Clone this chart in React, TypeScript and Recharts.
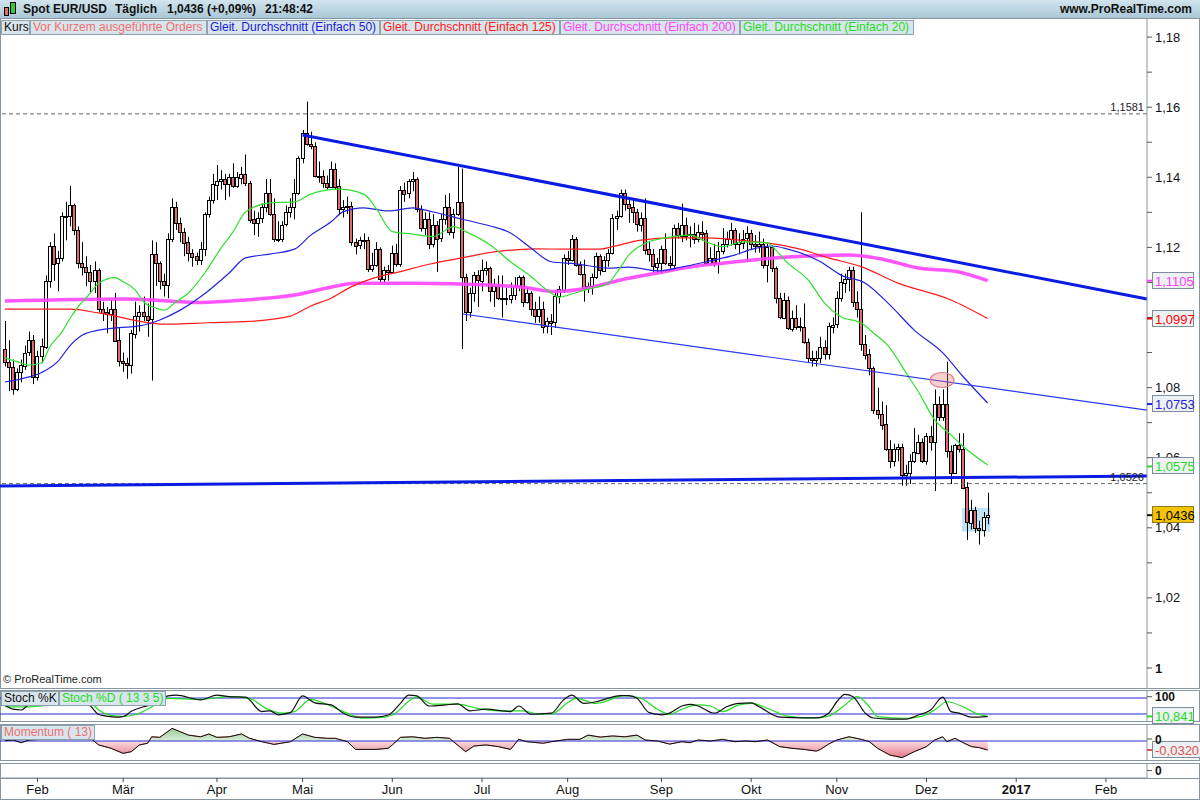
import React from "react";
import {
  ComposedChart,
  Bar,
  Line,
  Area,
  XAxis,
  YAxis,
  ReferenceLine,
  ReferenceDot,
  ReferenceArea,
} from "recharts";

const FONT = '"Liberation Sans", Arial, Helvetica, sans-serif';
const FRAME = "#8796a2";
// one slot per weekday, slot 0 = 20.01.2016
const X_DOMAIN: [number, number] = [-1.2, 280.07];
const PRICE_DOMAIN: [number, number] = [0.994294, 1.185164];

const monthTickIdx = [8, 29, 52, 73, 95, 117, 138, 161, 183, 204, 226, 248, 270];
const monthLabels = ["Feb", "Mär", "Apr", "Mai", "Jun", "Jul", "Aug", "Sep", "Okt", "Nov", "Dez", "2017", "Feb"];

const priceTicks = [1, 1.01, 1.02, 1.03, 1.04, 1.05, 1.06, 1.07, 1.08, 1.09, 1.1, 1.11, 1.12, 1.13, 1.14, 1.15, 1.16, 1.17, 1.18];

const opens = [
  1.0910, 1.0873, 1.0860, 1.0796, 1.0845, 1.0862, 1.0900, 1.0935, 1.0830, 1.0890,
  1.0918, 1.1105, 1.1205, 1.1155, 1.1170, 1.1290, 1.1290, 1.1320, 1.1250, 1.1155,
  1.1145, 1.1130, 1.1105, 1.1135, 1.1025, 1.1015, 1.1010, 1.1025, 1.0935, 1.0875,
  1.0870, 1.0865, 1.0955, 1.1005, 1.1015, 1.1005, 1.0995, 1.1180, 1.1155, 1.1105,
  1.1095, 1.1225, 1.1315, 1.1270, 1.1245, 1.1215, 1.1185, 1.1175, 1.1165, 1.1195,
  1.1295, 1.1335, 1.1380, 1.1390, 1.1395, 1.1380, 1.1400, 1.1375, 1.1400, 1.1410,
  1.1385, 1.1280, 1.1270, 1.1285, 1.1315, 1.1355, 1.1295, 1.1225, 1.1225, 1.1265,
  1.1300, 1.1315, 1.1355, 1.1455, 1.1525, 1.1495, 1.1490, 1.1405, 1.1405, 1.1385,
  1.1375, 1.1425, 1.1375, 1.1310, 1.1315, 1.1318, 1.1215, 1.1205, 1.1220, 1.1222,
  1.1140, 1.1150, 1.1195, 1.1110, 1.1135, 1.1130, 1.1185, 1.1155, 1.1365, 1.1355,
  1.1390, 1.1395, 1.1310, 1.1255, 1.1280, 1.1210, 1.1265, 1.1225, 1.1280, 1.1315,
  1.1245, 1.1295, 1.1330, 1.1115, 1.1015, 1.1070, 1.1120, 1.1105, 1.1135, 1.1140,
  1.1075, 1.1090, 1.1055, 1.1055, 1.1055, 1.1065, 1.1090, 1.1115, 1.1045, 1.1070,
  1.1025, 1.1005, 1.1025, 1.0975, 1.0990, 1.0985, 1.1060, 1.1080, 1.1170, 1.1165,
  1.1225, 1.1150, 1.1125, 1.1085, 1.1090, 1.1115, 1.1175, 1.1135, 1.1165, 1.1185,
  1.1285, 1.1290, 1.1355, 1.1325, 1.1315, 1.1300, 1.1265, 1.1285, 1.1195, 1.1180,
  1.1145, 1.1155, 1.1195, 1.1155, 1.1150, 1.1255, 1.1235, 1.1265, 1.1235, 1.1238,
  1.1225, 1.1245, 1.1240, 1.1155, 1.1170, 1.1155, 1.1190, 1.1210, 1.1225, 1.1250,
  1.1210, 1.1215, 1.1225, 1.1240, 1.1210, 1.1205, 1.1210, 1.1150, 1.1200, 1.1140,
  1.1055, 1.1000, 1.1050, 1.0970, 1.1000, 1.0975, 1.0972, 1.0930, 1.0885, 1.0880,
  1.0885, 1.0915, 1.0895, 1.0975, 1.0980, 1.1055, 1.1100, 1.1110, 1.1135, 1.1045,
  1.1025, 1.0925, 1.0895, 1.0855, 1.0735, 1.0725, 1.0695, 1.0625, 1.0590, 1.0625,
  1.0630, 1.0550, 1.0555, 1.0590, 1.0615, 1.0645, 1.0590, 1.0662, 1.0645, 1.0753,
  1.0716, 1.0753, 1.0619, 1.0556, 1.0635, 1.0625, 1.0515, 1.0414, 1.0450, 1.0400,
  1.0395, 1.0431,
];

const highs = [
  1.0990, 1.0935, 1.0880, 1.0855, 1.0880, 1.0920, 1.0960, 1.0950, 1.0905, 1.0940,
  1.1120, 1.1215, 1.1240, 1.1190, 1.1300, 1.1330, 1.1375, 1.1325, 1.1260, 1.1215,
  1.1175, 1.1150, 1.1160, 1.1140, 1.1045, 1.1030, 1.1050, 1.1070, 1.0970, 1.0900,
  1.0885, 1.0965, 1.1045, 1.1035, 1.1060, 1.1040, 1.1220, 1.1215, 1.1160, 1.1125,
  1.1240, 1.1340, 1.1330, 1.1285, 1.1255, 1.1230, 1.1195, 1.1185, 1.1215, 1.1300,
  1.1345, 1.1410, 1.1435, 1.1420, 1.1410, 1.1410, 1.1440, 1.1415, 1.1430, 1.1465,
  1.1390, 1.1305, 1.1300, 1.1325, 1.1395, 1.1395, 1.1340, 1.1275, 1.1275, 1.1320,
  1.1340, 1.1395, 1.1460, 1.1535, 1.1616, 1.1530, 1.1500, 1.1445, 1.1420, 1.1405,
  1.1445, 1.1440, 1.1395, 1.1335, 1.1345, 1.1330, 1.1225, 1.1230, 1.1240, 1.1230,
  1.1185, 1.1215, 1.1200, 1.1145, 1.1150, 1.1205, 1.1210, 1.1375, 1.1385, 1.1395,
  1.1415, 1.1400, 1.1320, 1.1300, 1.1300, 1.1295, 1.1275, 1.1295, 1.1350, 1.1355,
  1.1310, 1.1430, 1.1425, 1.1125, 1.1085, 1.1130, 1.1135, 1.1165, 1.1160, 1.1145,
  1.1110, 1.1120, 1.1120, 1.1085, 1.1100, 1.1115, 1.1120, 1.1120, 1.1085, 1.1075,
  1.1045, 1.1060, 1.1045, 1.1000, 1.1010, 1.1070, 1.1090, 1.1180, 1.1190, 1.1235,
  1.1230, 1.1160, 1.1165, 1.1100, 1.1125, 1.1185, 1.1180, 1.1175, 1.1195, 1.1295,
  1.1305, 1.1365, 1.1365, 1.1340, 1.1335, 1.1310, 1.1300, 1.1340, 1.1215, 1.1195,
  1.1170, 1.1205, 1.1240, 1.1175, 1.1265, 1.1270, 1.1325, 1.1285, 1.1260, 1.1270,
  1.1265, 1.1275, 1.1250, 1.1200, 1.1210, 1.1215, 1.1255, 1.1245, 1.1270, 1.1255,
  1.1240, 1.1250, 1.1260, 1.1250, 1.1235, 1.1245, 1.1225, 1.1210, 1.1205, 1.1145,
  1.1070, 1.1070, 1.1060, 1.1020, 1.1035, 1.1000, 1.1040, 1.0940, 1.0905, 1.0905,
  1.0945, 1.0935, 1.0985, 1.1000, 1.1075, 1.1125, 1.1125, 1.1145, 1.1145, 1.1075,
  1.1300, 1.0950, 1.0910, 1.0860, 1.0800, 1.0760, 1.0750, 1.0650, 1.0640, 1.0640,
  1.0640, 1.0580, 1.0610, 1.0685, 1.0665, 1.0655, 1.0670, 1.0690, 1.0795, 1.0775,
  1.0795, 1.0874, 1.0635, 1.0640, 1.0670, 1.0670, 1.0530, 1.0480, 1.0460, 1.0420,
  1.0445, 1.0500,
];

const lows = [
  1.0860, 1.0790, 1.0780, 1.0790, 1.0815, 1.0850, 1.0890, 1.0810, 1.0820, 1.0870,
  1.0910, 1.1085, 1.1105, 1.1075, 1.1160, 1.1220, 1.1260, 1.1235, 1.1140, 1.1120,
  1.1090, 1.1070, 1.1070, 1.1015, 1.0990, 1.0955, 1.0990, 1.0930, 1.0860, 1.0845,
  1.0825, 1.0840, 1.0940, 1.0960, 1.0990, 1.0945, 1.0820, 1.1090, 1.1080, 1.1060,
  1.1055, 1.1215, 1.1250, 1.1215, 1.1175, 1.1160, 1.1145, 1.1150, 1.1150, 1.1175,
  1.1285, 1.1325, 1.1335, 1.1365, 1.1335, 1.1345, 1.1370, 1.1370, 1.1380, 1.1375,
  1.1270, 1.1235, 1.1230, 1.1270, 1.1300, 1.1290, 1.1215, 1.1215, 1.1215, 1.1260,
  1.1285, 1.1280, 1.1350, 1.1440, 1.1490, 1.1480, 1.1400, 1.1385, 1.1370, 1.1365,
  1.1370, 1.1365, 1.1295, 1.1285, 1.1295, 1.1205, 1.1180, 1.1195, 1.1195, 1.1130,
  1.1130, 1.1145, 1.1100, 1.1100, 1.1105, 1.1125, 1.1145, 1.1145, 1.1330, 1.1340,
  1.1360, 1.1300, 1.1245, 1.1235, 1.1195, 1.1200, 1.1130, 1.1215, 1.1265, 1.1235,
  1.1225, 1.1290, 1.0910, 1.0990, 1.1000, 1.1045, 1.1030, 1.1075, 1.1120, 1.1045,
  1.1030, 1.1050, 1.1000, 1.1035, 1.1040, 1.1050, 1.1075, 1.1030, 1.1040, 1.1005,
  1.0985, 1.0985, 1.0955, 1.0955, 1.0950, 1.0970, 1.1040, 1.1070, 1.1150, 1.1160,
  1.1145, 1.1120, 1.1045, 1.1070, 1.1065, 1.1110, 1.1120, 1.1130, 1.1145, 1.1180,
  1.1250, 1.1285, 1.1305, 1.1270, 1.1270, 1.1245, 1.1245, 1.1180, 1.1160, 1.1130,
  1.1125, 1.1125, 1.1150, 1.1140, 1.1140, 1.1225, 1.1215, 1.1220, 1.1200, 1.1210,
  1.1215, 1.1220, 1.1150, 1.1150, 1.1145, 1.1125, 1.1180, 1.1200, 1.1205, 1.1195,
  1.1180, 1.1195, 1.1160, 1.1195, 1.1185, 1.1185, 1.1140, 1.1100, 1.1130, 1.1040,
  1.0995, 1.0995, 1.0965, 1.0960, 1.0965, 1.0960, 1.0925, 1.0870, 1.0860, 1.0860,
  1.0870, 1.0880, 1.0880, 1.0955, 1.0970, 1.1045, 1.1070, 1.1075, 1.1030, 1.1000,
  1.0905, 1.0880, 1.0835, 1.0725, 1.0710, 1.0680, 1.0620, 1.0570, 1.0575, 1.0590,
  1.0520, 1.0520, 1.0525, 1.0585, 1.0610, 1.0585, 1.0580, 1.0620, 1.0505, 1.0705,
  1.0705, 1.0600, 1.0525, 1.0555, 1.0615, 1.0510, 1.0365, 1.0395, 1.0385, 1.0352,
  1.0375, 1.0410,
];

const closes = [
  1.0873, 1.0860, 1.0796, 1.0845, 1.0865, 1.0900, 1.0935, 1.0830, 1.0890, 1.0918,
  1.1105, 1.1205, 1.1155, 1.1170, 1.1290, 1.1290, 1.1320, 1.1250, 1.1155, 1.1145,
  1.1130, 1.1105, 1.1135, 1.1025, 1.1015, 1.1010, 1.1025, 1.0935, 1.0875, 1.0870,
  1.0865, 1.0955, 1.1005, 1.1015, 1.1005, 1.0995, 1.1180, 1.1155, 1.1105, 1.1095,
  1.1225, 1.1315, 1.1270, 1.1245, 1.1215, 1.1185, 1.1175, 1.1165, 1.1195, 1.1295,
  1.1335, 1.1380, 1.1390, 1.1395, 1.1380, 1.1400, 1.1375, 1.1400, 1.1410, 1.1385,
  1.1280, 1.1270, 1.1285, 1.1315, 1.1355, 1.1295, 1.1225, 1.1225, 1.1265, 1.1300,
  1.1315, 1.1355, 1.1455, 1.1525, 1.1495, 1.1490, 1.1405, 1.1405, 1.1385, 1.1375,
  1.1425, 1.1375, 1.1310, 1.1315, 1.1318, 1.1215, 1.1205, 1.1220, 1.1222, 1.1140,
  1.1150, 1.1195, 1.1110, 1.1135, 1.1130, 1.1185, 1.1155, 1.1365, 1.1355, 1.1390,
  1.1395, 1.1310, 1.1255, 1.1280, 1.1210, 1.1265, 1.1225, 1.1280, 1.1315, 1.1245,
  1.1295, 1.1330, 1.1115, 1.1015, 1.1070, 1.1120, 1.1105, 1.1135, 1.1140, 1.1075,
  1.1090, 1.1055, 1.1055, 1.1055, 1.1065, 1.1090, 1.1115, 1.1045, 1.1070, 1.1025,
  1.1005, 1.1025, 1.0975, 1.0990, 1.0985, 1.1060, 1.1080, 1.1170, 1.1165, 1.1225,
  1.1150, 1.1125, 1.1085, 1.1090, 1.1115, 1.1175, 1.1135, 1.1165, 1.1185, 1.1285,
  1.1290, 1.1355, 1.1325, 1.1315, 1.1300, 1.1265, 1.1285, 1.1195, 1.1180, 1.1145,
  1.1155, 1.1195, 1.1155, 1.1150, 1.1255, 1.1235, 1.1265, 1.1235, 1.1238, 1.1225,
  1.1245, 1.1240, 1.1155, 1.1170, 1.1155, 1.1190, 1.1210, 1.1225, 1.1250, 1.1210,
  1.1215, 1.1225, 1.1240, 1.1210, 1.1205, 1.1210, 1.1150, 1.1200, 1.1140, 1.1055,
  1.1000, 1.1050, 1.0970, 1.1000, 1.0975, 1.0972, 1.0930, 1.0885, 1.0880, 1.0885,
  1.0915, 1.0895, 1.0975, 1.0980, 1.1055, 1.1100, 1.1110, 1.1135, 1.1045, 1.1025,
  1.0925, 1.0895, 1.0855, 1.0735, 1.0725, 1.0695, 1.0625, 1.0590, 1.0625, 1.0630,
  1.0550, 1.0555, 1.0590, 1.0615, 1.0645, 1.0590, 1.0662, 1.0645, 1.0753, 1.0716,
  1.0753, 1.0619, 1.0556, 1.0635, 1.0625, 1.0515, 1.0415, 1.0450, 1.0400, 1.0395,
  1.0431, 1.0436,
];

// moving averages: [slot, value]
const ma20: [number, number][] = [
  [0, 1.0885], [3, 1.0874], [6, 1.0864], [9, 1.0871], [11, 1.0916], [14, 1.0959], [16, 1.0998], [18, 1.1031],
  [21, 1.107], [23, 1.1098], [27, 1.1114], [29, 1.1102], [32, 1.1078], [34, 1.1045], [37, 1.1027], [39, 1.1021],
  [42, 1.1045], [45, 1.107], [49, 1.1127], [53, 1.1198], [56, 1.1245], [59, 1.1301], [65, 1.1327], [71, 1.133],
  [75, 1.1352], [82, 1.1366], [88, 1.1352], [91, 1.1312], [95, 1.1245], [100, 1.1238], [105, 1.1231], [110, 1.1259],
  [113, 1.1245], [119, 1.1207], [124, 1.1159], [129, 1.1117], [133, 1.1078], [136, 1.1058], [139, 1.1067], [143, 1.1081],
  [148, 1.1098], [150, 1.1127], [153, 1.1178], [157, 1.1212], [162, 1.1227], [168, 1.1235], [172, 1.1216], [176, 1.1202],
  [181, 1.1216], [187, 1.1213], [189, 1.1193], [192, 1.1155], [197, 1.1107], [201, 1.1041], [205, 1.1002], [210, 1.0984],
  [213, 1.0956], [217, 1.0913], [221, 1.0842], [224, 1.0788], [228, 1.0708], [232, 1.0665], [235, 1.0632], [241, 1.0579],
];
const ma50: [number, number][] = [
  [0, 1.0816], [4, 1.0825], [9, 1.0843], [13, 1.0875], [16, 1.092], [19, 1.095], [23, 1.0964], [28, 1.0971],
  [33, 1.0976], [38, 1.0993], [43, 1.1021], [48, 1.1059], [55, 1.1127], [59, 1.117], [65, 1.1181], [71, 1.1195],
  [75, 1.1235], [80, 1.1273], [83, 1.1302], [88, 1.1313], [94, 1.1304], [100, 1.1313], [105, 1.1301], [112, 1.1281],
  [119, 1.1261], [124, 1.1241], [129, 1.1198], [134, 1.1159], [140, 1.1153], [148, 1.1141], [153, 1.1144], [160, 1.1133],
  [166, 1.1144], [172, 1.1159], [178, 1.1175], [184, 1.1197], [188, 1.1204], [192, 1.1195], [200, 1.1159], [205, 1.1121],
  [211, 1.1098], [217, 1.1036], [223, 1.0964], [230, 1.0899], [235, 1.0831], [241, 1.0756],
];
const ma125: [number, number][] = [
  [0, 1.1024], [16, 1.1024], [23, 1.1013], [39, 1.0981], [50, 1.0985], [60, 1.0989], [70, 1.1004], [75, 1.1033],
  [80, 1.1055], [85, 1.1088], [90, 1.1111], [97, 1.1131], [104, 1.1152], [112, 1.117], [120, 1.1187], [130, 1.1196],
  [138, 1.1195], [146, 1.1195], [149, 1.1202], [156, 1.1221], [164, 1.1227], [172, 1.1227], [180, 1.1221], [190, 1.1207],
  [195, 1.1195], [202, 1.117], [210, 1.1145], [219, 1.1098], [232, 1.105], [241, 1.0997],
];
const ma200: [number, number][] = [
  [0, 1.1047], [30, 1.1053], [48, 1.1043], [59, 1.105], [71, 1.1064], [79, 1.1084], [86, 1.1098], [100, 1.1098],
  [119, 1.1093], [127, 1.1086], [135, 1.1074], [143, 1.1084], [151, 1.1107], [160, 1.1127], [168, 1.1144], [176, 1.1155],
  [184, 1.1165], [193, 1.1173], [207, 1.1178], [215, 1.1167], [224, 1.1141], [233, 1.1132], [241, 1.1105],
];

const stochK: [number, number][] = [
  [0, 54], [2, 38], [4, 35], [6, 54], [8, 54], [12, 85], [16, 92], [19, 75], [21, 50], [23, 18], [25, 12], [27, 8],
  [29, 10], [31, 30], [34, 47], [36, 55], [40, 88], [42, 91], [48, 73], [52, 91], [55, 85], [59, 83], [63, 29], [65, 32],
  [67, 17], [70, 25], [73, 88], [76, 62], [80, 54], [83, 23], [86, 8], [91, 8], [94, 16], [97, 60], [99, 91], [101, 88],
  [104, 50], [108, 54], [111, 58], [114, 32], [118, 38], [124, 29], [126, 50], [129, 19], [134, 23], [137, 73], [139, 91],
  [142, 60], [145, 66], [146, 70], [151, 89], [153, 89], [155, 79], [158, 25], [161, 17], [163, 23], [166, 50], [168, 56],
  [170, 50], [174, 23], [177, 47], [180, 60], [183, 62], [185, 47], [190, 8], [196, 5], [199, 5], [202, 23], [204, 66],
  [206, 94], [208, 85], [211, 23], [213, 5], [217, 1], [221, 1], [224, 16], [227, 35], [230, 83], [232, 29], [234, 23],
  [237, 8], [241, 10],
];
const stochD: [number, number][] = [
  [0, 48], [2, 47], [6, 47], [9, 50], [14, 75], [18, 85], [21, 65], [23, 35], [26, 15], [29, 11], [32, 18], [35, 38],
  [40, 79], [48, 75], [55, 85], [60, 79], [64, 41], [68, 23], [71, 29], [75, 75], [78, 62], [83, 29], [88, 4], [93, 8],
  [95, 16], [101, 83], [105, 57], [111, 57], [116, 41], [121, 32], [127, 32], [131, 19], [134, 20], [138, 62], [140, 79],
  [145, 60], [146, 62], [152, 89], [156, 79], [160, 38], [163, 19], [166, 38], [170, 54], [173, 50], [176, 29], [180, 54],
  [183, 60], [188, 35], [192, 12], [198, 5], [202, 12], [206, 54], [209, 85], [212, 47], [214, 10], [221, 4], [225, 12],
  [228, 35], [231, 66], [235, 47], [238, 23], [241, 11],
];
const momentum: [number, number][] = [
  [0, 0.001], [2, 0.0036], [4, -0.006], [6, 0.0036], [9, 0.006], [12, 0.025], [15, 0.04], [18, 0.03], [21, 0.01],
  [23, -0.014], [26, -0.026], [29, -0.044], [31, -0.038], [33, -0.014], [35, -0.008], [36, 0.015], [38, 0.013],
  [41, 0.045], [45, 0.021], [48, 0.015], [50, 0.025], [52, 0.013], [55, 0.015], [58, 0.025], [60, 0.0096], [63, -0.0025],
  [66, -0.012], [70, -0.0025], [73, 0.025], [76, 0.013], [79, 0.0096], [81, 0.0096], [84, -0.0025], [86, -0.03],
  [91, -0.03], [94, -0.026], [95, -0.014], [97, 0.013], [100, 0.015], [103, 0.0096], [106, 0.013], [109, 0.0096],
  [110, -0.0025], [113, -0.038], [115, -0.018], [118, -0.014], [121, -0.02], [124, -0.03], [126, 0.006], [128, -0.0025],
  [132, -0.008], [134, -0.0025], [138, 0.006], [141, 0.006], [143, 0.021], [146, 0.014], [149, 0.018], [152, 0.015],
  [155, 0.021], [157, 0.0036], [160, 0], [163, -0.011], [166, -0.0025], [168, -0.006], [170, 0.0036], [173, 0],
  [176, 0.006], [179, -0.0025], [182, 0], [184, -0.0025], [187, 0.0036], [190, -0.02], [193, -0.026], [196, -0.03],
  [199, -0.036], [200, -0.03], [202, -0.011], [204, 0.0036], [207, 0.015], [210, 0.006], [212, -0.0025], [214, -0.026],
  [217, -0.05], [220, -0.059], [223, -0.038], [226, -0.02], [228, 0.0036], [230, 0.015], [231, -0.0025], [233, 0.0096],
  [235, -0.006], [237, -0.02], [239, -0.024], [241, -0.032],
];

// build the tables recharts wants
const priceRows: any[] = closes.map((c, i) => ({
  i,
  o: opens[i],
  h: highs[i],
  l: lows[i],
  c,
  range: [lows[i], highs[i]],
}));
const indRows: any[] = closes.map((_, i) => ({ i }));
const put = (rows: any[], key: string, pts: [number, number][]) =>
  pts.forEach(([i, v]) => {
    rows[i][key] = v;
  });
put(priceRows, "ma20", ma20);
put(priceRows, "ma50", ma50);
put(priceRows, "ma125", ma125);
put(priceRows, "ma200", ma200);
put(indRows, "k", stochK);
put(indRows, "d", stochD);
put(indRows, "m", momentum);

const fmt = (v: number) => String(Number(v.toFixed(2))).replace(".", ",");

function Candle(props: any) {
  const { x, y, width, height, payload } = props;
  if (!payload || y == null || height == null) return null;
  const { o, h, l, c } = payload;
  const cx = Math.round(x + width / 2) + 0.5;
  const k = h === l ? 0 : height / (h - l);
  const yO = y + (h - o) * k;
  const yC = y + (h - c) * k;
  const top = Math.round(Math.min(yO, yC)) + 0.5;
  const bh = Math.max(Math.round(Math.abs(yC - yO)), 1);
  return (
    <g>
      <line x1={cx} x2={cx} y1={y} y2={y + height} stroke="#000" strokeWidth={1} />
      <rect x={cx - 2} y={top} width={3} height={bh} fill={c >= o ? "#f4f4f4" : "#e06b6b"} stroke="#000" strokeWidth={1} />
    </g>
  );
}

function PriceTick(props: any) {
  const { x, y, payload } = props;
  const v = payload.value;
  const cents = Math.round(v * 100);
  // 1,10 sits under the 1,0997 tag in the original, only its mark shows
  const major = cents % 2 === 0 && cents !== 110;
  return (
    <g>
      <line x1={x} x2={x + 5} y1={y} y2={y} stroke="#555" />
      {major && (
        <text x={x + 8} y={y} dy={4.5} fontSize={13} fill="#111" fontFamily={FONT} fontWeight={v === 1 ? "bold" : "normal"}>
          {fmt(v)}
        </text>
      )}
    </g>
  );
}

function SubTick(props: any) {
  const { x, y, payload, shift = 0 } = props;
  return (
    <g>
      <line x1={x} x2={x + 5} y1={y + shift} y2={y + shift} stroke="#555" />
      <text x={x + 8} y={y + shift} dy={4.5} fontSize={12} fill="#111" fontFamily={FONT} fontWeight="bold">
        {payload.value}
      </text>
    </g>
  );
}

function MonthTick(props: any) {
  const { x, y, payload } = props;
  const label = monthLabels[monthTickIdx.indexOf(payload.value)];
  return (
    <text x={x} y={y} dy={12} textAnchor="middle" fontSize={13} fill="#111" fontFamily={FONT} fontWeight={label === "2017" ? "bold" : "normal"}>
      {label}
    </text>
  );
}

const tag = (text: string, color: string, w = 41, bg = "#eef1f3", border = "#7d8d99", textColor?: string) =>
  (props: any) => {
    const vb = props.viewBox || {};
    const x = (vb.x ?? 0) + (vb.width ?? 0) / 2;
    const y = (vb.y ?? 0) + (vb.height ?? 0) / 2;
    return (
      <g>
        <line x1={x} x2={x + 5} y1={y} y2={y} stroke={color} strokeWidth={2} />
        <rect x={x + 5.5} y={Math.round(y) - 8.5} width={w} height={16} fill={bg} stroke={border} />
        <text x={x + 8} y={y} dy={5} fontSize={13} fill={textColor || color} fontFamily={FONT}>
          {text}
        </text>
      </g>
    );
  };

const box = (left: number, width: number, top: number, color: string, text: string) => (
  <div
    key={text}
    style={{
      position: "absolute",
      left,
      top,
      width,
      height: 15,
      boxSizing: "border-box",
      background: "#d9e5ec",
      border: "1px solid #8ea2af",
      color,
      fontSize: 12,
      lineHeight: "13px",
      paddingLeft: 2,
      whiteSpace: "nowrap",
      overflow: "hidden",
    }}
  >
    {text}
  </div>
);

const frame = (top: number, height: number) => (
  <div
    style={{
      position: "absolute",
      left: 0,
      top,
      width: 1200,
      height,
      boxSizing: "border-box",
      border: `1px solid ${FRAME}`,
    }}
  />
);

const M = { top: 0, right: 0, bottom: 0, left: 0 };
const PAD = { top: 6, right: 0, bottom: 12, left: 0 };

export default function App() {
  return (
    <div style={{ position: "absolute", left: 0, top: 0, width: 1200, height: 800, background: "#fff", overflow: "hidden", fontFamily: FONT }}>
      {/* header */}
      <div style={{ position: "absolute", left: 0, top: 0, width: 1200, height: 19, boxSizing: "border-box", background: "linear-gradient(#d2e4ee, #aac7d7)", borderBottom: `1px solid ${FRAME}` }}>
        <div style={{ position: "absolute", left: 4, top: 7, width: 5, height: 9, background: "#e46a6a", border: "1px solid #000", boxSizing: "border-box" }} />
        <div style={{ position: "absolute", left: 10, top: 2, width: 6, height: 12, background: "#33cc33", border: "1px solid #000", boxSizing: "border-box" }} />
        {[
          [23, "Spot EUR/USD"],
          [115, "Täglich"],
          [167, "1,0436 (+0,09%)"],
          [265, "21:48:42"],
        ].map(([l, t]) => (
          <span key={t as string} style={{ position: "absolute", left: l as number, top: 2, fontSize: 12, fontWeight: "bold", color: "#111" }}>
            {t}
          </span>
        ))}
        <span style={{ position: "absolute", right: 8, top: 2, fontSize: 12, fontWeight: "bold", color: "#111" }}>www.ProRealTime.com</span>
      </div>

      {frame(18, 671)}
      {frame(690, 32)}
      {frame(724, 37)}
      {frame(763, 16)}
      {frame(778, 22)}

      {/* price panel */}
      <div style={{ position: "absolute", left: 0, top: 19 }}>
        <ComposedChart width={1200} height={669} data={priceRows} margin={M}>
          <XAxis hide type="number" dataKey="i" domain={X_DOMAIN} allowDataOverflow />
          <YAxis
            orientation="right"
            width={53}
            type="number"
            domain={PRICE_DOMAIN}
            allowDataOverflow
            ticks={priceTicks}
            interval={0}
            tickSize={0}
            tickMargin={0}
            tickLine={false}
            axisLine={{ stroke: FRAME }}
            tick={(p: any) => <PriceTick {...p} />}
          />
          <ReferenceArea x1={234.7} x2={241.7} y1={1.0389} y2={1.0457} fill="#bfe4f7" fillOpacity={1} stroke="none" ifOverflow="visible" />
          <ReferenceLine y={1.1581} stroke="#666" strokeDasharray="4 3" label={{ value: "1,1581", position: "insideBottomRight", offset: 3, fontSize: 11, fill: "#222" }} />
          <ReferenceLine y={1.0526} stroke="#666" strokeDasharray="4 3" label={{ value: "1,0526", position: "insideBottomRight", offset: 3, fontSize: 11, fill: "#222" }} />
          <Bar dataKey="range" barSize={4} isAnimationActive={false} shape={(p: any) => <Candle {...p} />} />
          <Line dataKey="ma200" type="monotone" connectNulls dot={false} stroke="#ff44ff" strokeWidth={3.5} strokeOpacity={0.9} isAnimationActive={false} />
          <Line dataKey="ma125" type="monotone" connectNulls dot={false} stroke="#ff1a1a" strokeWidth={1.2} isAnimationActive={false} />
          <Line dataKey="ma50" type="monotone" connectNulls dot={false} stroke="#2222dd" strokeWidth={1.2} isAnimationActive={false} />
          <Line dataKey="ma20" type="monotone" connectNulls dot={false} stroke="#2ee02e" strokeWidth={1.2} isAnimationActive={false} />
          <ReferenceLine segment={[{ x: 73, y: 1.15207 }, { x: 280.07, y: 1.10528 }]} stroke="#0b1be3" strokeWidth={3} ifOverflow="visible" />
          <ReferenceLine segment={[{ x: 112.3, y: 1.101 }, { x: 280.07, y: 1.0736 }]} stroke="#2a3aee" strokeWidth={1.2} ifOverflow="visible" />
          <ReferenceLine segment={[{ x: -1.2, y: 1.05193 }, { x: 280.07, y: 1.05478 }]} stroke="#0b1be3" strokeWidth={3} ifOverflow="visible" />
          <ReferenceDot
            x={229.8}
            y={1.08217}
            r={10}
            ifOverflow="visible"
            shape={(p: any) => <ellipse cx={p.cx} cy={p.cy} rx={12} ry={7.5} fill="rgba(232,120,120,0.35)" stroke="#e08080" strokeWidth={1.2} />}
          />
        </ComposedChart>
      </div>

      {/* value tags drawn above the price axis labels */}
      <div style={{ position: "absolute", left: 0, top: 19 }}>
        <ComposedChart width={1200} height={669} data={priceRows} margin={{ top: 0, right: 53, bottom: 0, left: 0 }}>
          <XAxis hide type="number" dataKey="i" domain={X_DOMAIN} allowDataOverflow />
          <YAxis hide type="number" domain={PRICE_DOMAIN} allowDataOverflow />
          <ReferenceDot x={280.07} y={1.1105} r={0.5} fill="none" stroke="none" ifOverflow="visible" label={tag("1,1105", "#ff3cff")} />
          <ReferenceDot x={280.07} y={1.0997} r={0.5} fill="none" stroke="none" ifOverflow="visible" label={tag("1,0997", "#ff0000")} />
          <ReferenceDot x={280.07} y={1.0753} r={0.5} fill="none" stroke="none" ifOverflow="visible" label={tag("1,0753", "#2222dd")} />
          <ReferenceDot x={280.07} y={1.0575} r={0.5} fill="none" stroke="none" ifOverflow="visible" label={tag("1,0575", "#22dd22")} />
          <ReferenceDot x={280.07} y={1.0436} r={0.5} fill="none" stroke="none" ifOverflow="visible" label={tag("1,0436", "#111", 41, "#f5c400", "#8d7a2a", "#000")} />
        </ComposedChart>
      </div>

      {/* stochastic, plot area 690..721 */}
      <div style={{ position: "absolute", left: 0, top: 690 - PAD.top }}>
        <ComposedChart width={1200} height={31 + PAD.top + PAD.bottom} data={indRows} margin={PAD}>
          <XAxis hide type="number" dataKey="i" domain={X_DOMAIN} allowDataOverflow />
          <YAxis orientation="right" width={53} type="number" domain={[-6.39, 110.15]} allowDataOverflow ticks={[100]} interval={0} tickSize={0} tickMargin={0} tickLine={false} axisLine={{ stroke: FRAME }} tick={(p: any) => <SubTick {...p} shift={4} />} />
          <ReferenceLine y={80} stroke="#2a2ad8" />
          <ReferenceLine y={20} stroke="#2a2ad8" />
          <Line dataKey="d" type="monotone" connectNulls dot={false} stroke="#22dd22" strokeWidth={1.2} isAnimationActive={false} />
          <Line dataKey="k" type="monotone" connectNulls dot={false} stroke="#111" strokeWidth={1.2} isAnimationActive={false} />
          <ReferenceDot x={280.07} y={10.841} r={0.5} fill="none" stroke="none" ifOverflow="visible" label={tag("10,841", "#22dd22")} />
        </ComposedChart>
      </div>

      {/* momentum, plot area 724..760 */}
      <div style={{ position: "absolute", left: 0, top: 724 }}>
        <ComposedChart width={1200} height={36} data={indRows} margin={M}>
          <defs>
            <linearGradient id="momFill" gradientUnits="userSpaceOnUse" x1="0" y1="0" x2="0" y2="36">
              <stop offset="0" stopColor="#7cbf7c" />
              <stop offset="0.472" stopColor="#dcefdc" />
              <stop offset="0.472" stopColor="#fbdde1" />
              <stop offset="1" stopColor="#de6a7c" />
            </linearGradient>
          </defs>
          <XAxis hide type="number" dataKey="i" domain={X_DOMAIN} allowDataOverflow />
          <YAxis orientation="right" width={53} type="number" domain={[-0.0676, 0.0605]} allowDataOverflow ticks={[0]} interval={0} tickSize={0} tickMargin={0} tickLine={false} axisLine={{ stroke: FRAME }} tick={(p: any) => <SubTick {...p} shift={-2} />} />
          <Area dataKey="m" type="linear" baseValue={0} connectNulls stroke="#e07070" strokeWidth={1} fill="url(#momFill)" fillOpacity={1} isAnimationActive={false} />
          <ReferenceLine y={0} stroke="#2a2ad8" />
          <Line dataKey="m" type="linear" connectNulls dot={false} stroke="#111" strokeWidth={1} isAnimationActive={false} />
          <ReferenceDot x={280.07} y={-0.032} r={0.5} fill="none" stroke="none" ifOverflow="visible" label={tag("-0,0320", "#e05050", 50)} />
        </ComposedChart>
      </div>

      {/* empty panel + time axis */}
      <div style={{ position: "absolute", left: 0, top: 763 }}>
        <ComposedChart width={1200} height={37} data={indRows} margin={M}>
          <XAxis
            type="number"
            dataKey="i"
            domain={X_DOMAIN}
            allowDataOverflow
            ticks={monthTickIdx}
            interval={0}
            height={22}
            tickSize={4}
            tickMargin={0}
            axisLine={{ stroke: FRAME }}
            tickLine={{ stroke: "#444" }}
            tick={(p: any) => <MonthTick {...p} />}
          />
          <YAxis orientation="right" width={53} type="number" domain={[-1, 1]} allowDataOverflow ticks={[0]} interval={0} tickSize={0} tickMargin={0} tickLine={false} axisLine={{ stroke: FRAME }} tick={(p: any) => <SubTick {...p} />} />
        </ComposedChart>
      </div>

      {/* legends */}
      {box(1, 29, 20, "#111", "Kurs")}
      {box(30, 177, 20, "#f07070", "Vor Kurzem ausgeführte Orders")}
      {box(207, 173, 20, "#1a1ae0", "Gleit. Durchschnitt (Einfach 50)")}
      {box(380, 180, 20, "#ff1a1a", "Gleit. Durchschnitt (Einfach 125)")}
      {box(560, 180, 20, "#ff44ff", "Gleit. Durchschnitt (Einfach 200)")}
      {box(740, 174, 20, "#22dd22", "Gleit. Durchschnitt (Einfach 20)")}
      {box(1, 58, 691, "#111", "Stoch %K")}
      {box(59, 107, 691, "#22dd22", "Stoch %D ( 13 3 5)")}
      {box(1, 94, 725, "#ec7070", "Momentum ( 13)")}
      <div style={{ position: "absolute", left: 3, top: 673, fontSize: 11, color: "#222" }}>© ProRealTime.com</div>
    </div>
  );
}
